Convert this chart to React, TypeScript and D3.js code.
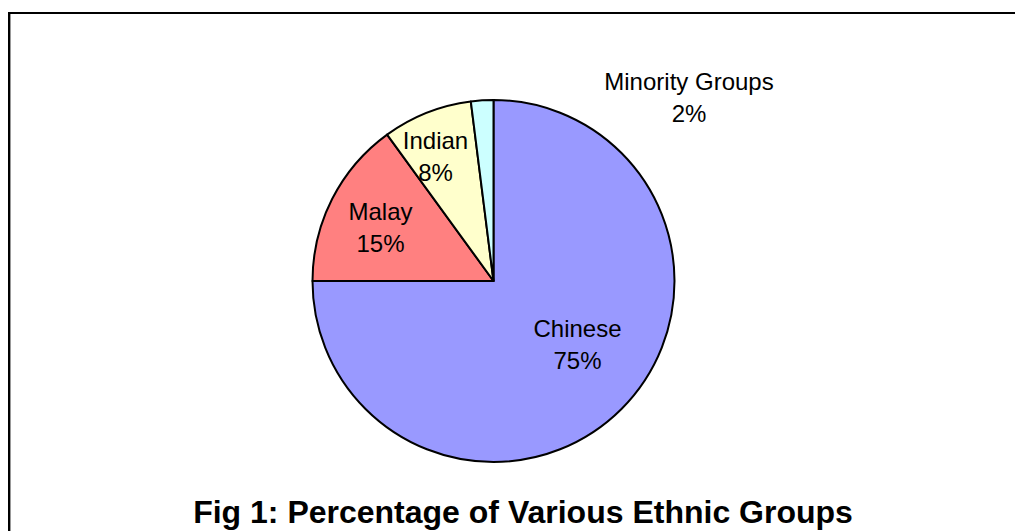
import React from "react";
import * as d3 from "d3";

const categories = ["Chinese", "Malay", "Indian", "Minority Groups"];
const values = [75, 15, 8, 2];
const colors = ["#9999FF", "#FF8080", "#FFFFCC", "#CCFFFF"];
const title = "Fig 1: Percentage of Various Ethnic Groups";

// label anchor offsets from pie centre (layout only): [dx, dyOfFirstBaseline]
const labelOffsets: [number, number][] = [
  [84, 56],
  [-113, -61],
  [-58, -132.5],
  [195.5, -191],
];

const W = 1015;
const H = 531;
const cx = 493.5;
const cy = 281;
const R = 181;

export default function App() {
  const pie = d3.pie<number>().sort(null).value((d) => d)(values);
  const arc = d3.arc<d3.PieArcDatum<number>>().innerRadius(0).outerRadius(R);
  const font = "'Liberation Sans', Arial, Helvetica, sans-serif";
  return (
    <svg
      width={W}
      height={H}
      style={{ position: "absolute", left: 0, top: 0, background: "#fff" }}
    >
      <rect x={0} y={0} width={W} height={H} fill="#fff" />
      <rect x={9} y={13} width={1200} height={1000} fill="none" stroke="#000" strokeWidth={2} />
      <line x1={10.5} y1={14} x2={10.5} y2={H} stroke="#999" strokeWidth={1} />
      <g transform={`translate(${cx},${cy})`}>
        {pie.map((p, i) => (
          <path key={i} d={arc(p) || ""} fill={colors[i]} stroke="#000" strokeWidth={2} strokeLinejoin="round" />
        ))}
      </g>
      {categories.map((c, i) => {
        const [dx, dy] = labelOffsets[i];
        const x = cx + dx;
        const y = cy + dy;
        return (
          <text key={c} x={x} y={y} textAnchor="middle" fontFamily={font} fontSize={24} fill="#000">
            <tspan x={x} y={y}>{c}</tspan>
            <tspan x={x} y={y + 32}>{`${values[i]}%`}</tspan>
          </text>
        );
      })}
      <text x={523} y={523} textAnchor="middle" fontFamily={font} fontSize={32} fontWeight="bold" fill="#000">
        {title}
      </text>
    </svg>
  );
}
